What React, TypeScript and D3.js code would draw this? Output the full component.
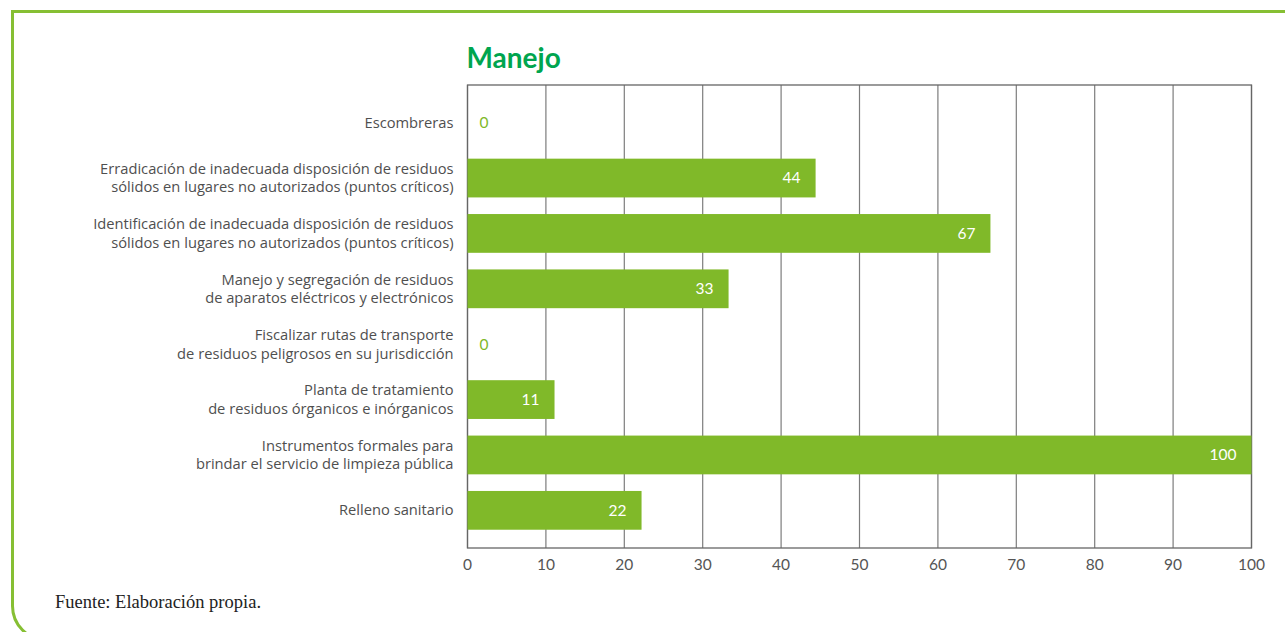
import React, { useEffect, useRef } from 'react';
import * as d3 from 'd3';

// categories, top to bottom (each entry is the lines of the label)
const categories: string[][] = [
  ['Escombreras'],
  ['Erradicación de inadecuada disposición de residuos', 'sólidos en lugares no autorizados (puntos críticos)'],
  ['Identificación de inadecuada disposición de residuos', 'sólidos en lugares no autorizados (puntos críticos)'],
  ['Manejo y segregación de residuos', 'de aparatos eléctricos y electrónicos'],
  ['Fiscalizar rutas de transporte', 'de residuos peligrosos en su jurisdicción'],
  ['Planta de tratamiento', 'de residuos órganicos e inórganicos'],
  ['Instrumentos formales para', 'brindar el servicio de limpieza pública'],
  ['Relleno sanitario'],
];
const values: number[] = [0, 44.4, 66.7, 33.3, 0, 11.1, 100, 22.2];
const xTicks: number[] = [0, 10, 20, 30, 40, 50, 60, 70, 80, 90, 100];

const title = 'Manejo';
const source = 'Fuente: Elaboración propia.';

const W = 1285;
const H = 632;
const BAR = '#80b929';
const FONT = 'Lato, "Open Sans", sans-serif';
const LABEL_FONT = '"Open Sans", Lato, sans-serif';

export default function App() {
  const ref = useRef<SVGSVGElement>(null);

  useEffect(() => {
    const svg = d3.select(ref.current);
    svg.selectAll('*').remove();

    const left = 467.5, right = 1251.5, top = 85, bottom = 548;

    // page border, rounded at the bottom left
    svg.append('path')
      .attr('d', `M${W + 5},11.5 H12.5 V606 A34,34 0 0 0 46.5,640`)
      .attr('fill', 'none')
      .attr('stroke', '#86bf33')
      .attr('stroke-width', 3);

    const x = d3.scaleLinear().domain([0, 100]).range([left, right]);
    const y = d3.scaleBand<number>()
      .domain(d3.range(categories.length))
      .range([top, bottom])
      .paddingInner(0.3)
      .paddingOuter(0.33);

    svg.append('text')
      .attr('x', left - 1)
      .attr('y', 68)
      .attr('fill', '#00a54f')
      .attr('font-family', FONT)
      .attr('font-weight', 700)
      .attr('font-size', 28)
      .text(title);

    // grid
    svg.append('g')
      .selectAll('line')
      .data(xTicks)
      .join('line')
      .attr('x1', d => x(d)).attr('x2', d => x(d))
      .attr('y1', top).attr('y2', bottom)
      .attr('stroke', '#7d7d7d')
      .attr('stroke-width', 1.2);

    svg.append('rect')
      .attr('x', left).attr('y', top)
      .attr('width', right - left).attr('height', bottom - top)
      .attr('fill', 'none')
      .attr('stroke', '#666')
      .attr('stroke-width', 1.3);

    // bars
    svg.append('g')
      .selectAll('rect')
      .data(values)
      .join('rect')
      .attr('x', left)
      .attr('y', (_, i) => y(i)!)
      .attr('width', d => x(d) - left)
      .attr('height', y.bandwidth())
      .attr('fill', BAR);

    // value labels
    svg.append('g')
      .selectAll('text')
      .data(values)
      .join('text')
      .attr('x', d => (d > 0 ? x(d) - 15 : left + 12))
      .attr('y', (_, i) => y(i)! + y.bandwidth() / 2)
      .attr('dy', '0.35em')
      .attr('text-anchor', d => (d > 0 ? 'end' : 'start'))
      .attr('fill', d => (d > 0 ? '#fff' : BAR))
      .attr('font-family', FONT)
      .attr('font-size', 15.5)
      .text(d => Math.round(d));

    // category labels
    const lab = svg.append('g')
      .selectAll('text')
      .data(categories)
      .join('text')
      .attr('text-anchor', 'end')
      .attr('fill', '#4f4f4f')
      .attr('font-family', LABEL_FONT)
      .attr('font-size', 14.7)
      .attr('transform', (_, i) => `translate(${left - 14},${y(i)! + y.bandwidth() / 2})`);
    lab.selectAll('tspan')
      .data(d => d.map((t, k) => ({ t, k, n: d.length })))
      .join('tspan')
      .attr('x', 0)
      .attr('y', d => (d.k - (d.n - 1) / 2) * 18.5)
      .attr('dy', '0.35em')
      .text(d => d.t);

    // x axis labels
    svg.append('g')
      .selectAll('text')
      .data(xTicks)
      .join('text')
      .attr('x', d => x(d))
      .attr('y', 565)
      .attr('dy', '0.35em')
      .attr('text-anchor', 'middle')
      .attr('fill', '#555')
      .attr('font-family', FONT)
      .attr('font-size', 15.5)
      .text(d => d);

    svg.append('text')
      .attr('x', 55)
      .attr('y', 608)
      .attr('fill', '#222')
      .attr('font-family', '"Liberation Serif", serif')
      .attr('font-size', 18.5)
      .text(source);
  }, []);

  return (
    <svg
      ref={ref}
      width={W}
      height={H}
      style={{ position: 'absolute', left: 0, top: 0, background: '#fff' }}
    />
  );
}
